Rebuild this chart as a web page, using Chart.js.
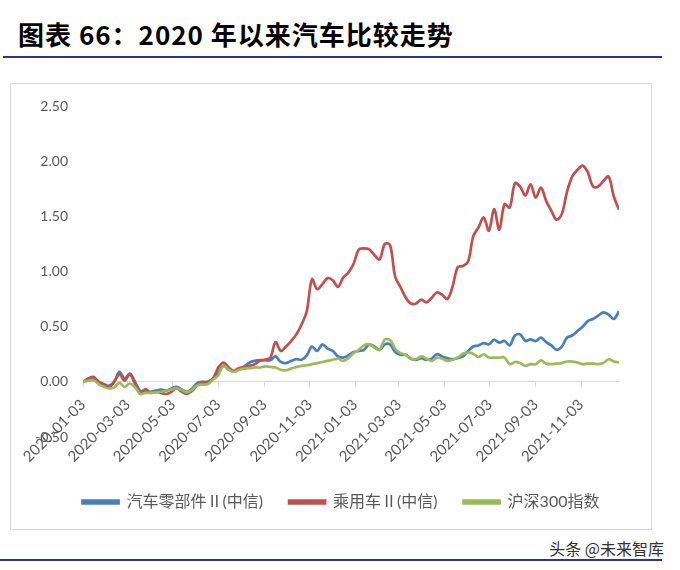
<!DOCTYPE html>
<html>
<head>
<meta charset="utf-8">
<script src="https://cdn.jsdelivr.net/npm/chart.js@4.4.0/dist/chart.umd.min.js"></script>
<style>
  body { margin: 0; width: 680px; height: 570px; background: #fff; position: relative; overflow: hidden; }
  #title { position: absolute; left: 18px; top: 15px; font: bold 26px "Noto Sans CJK SC", sans-serif; letter-spacing: 1px; color: #000; white-space: nowrap; }
  .rule { position: absolute; height: 2px; background: #2e3092; }
  #box { position: absolute; left: 10px; top: 83px; width: 642px; height: 447px; border: 1px solid #d9d9d9; box-sizing: border-box; }
  #mark { position: absolute; right: 16px; top: 536px; font: 16px "Noto Sans CJK SC", sans-serif; color: #333; }
</style>
</head>
<body>
<div id="title">图表 66：2020 年以来汽车比较走势</div>
<div class="rule" style="left:3px; top:56px; width:659px;"></div>
<div id="box"><canvas id="chart" width="640" height="445"></canvas></div>
<div id="mark">头条 @未来智库</div>
<div class="rule" style="left:0; top:559px; width:662px;"></div>
<script>
// weekly dates (Fridays)
var dates = [
  '2020-01-03','2020-01-10','2020-01-17','2020-01-24','2020-01-31','2020-02-07','2020-02-14','2020-02-21','2020-02-28',
  '2020-03-06','2020-03-13','2020-03-20','2020-03-27','2020-04-03','2020-04-10','2020-04-17','2020-04-24',
  '2020-05-01','2020-05-08','2020-05-15','2020-05-22','2020-05-29','2020-06-05','2020-06-12','2020-06-19','2020-06-26',
  '2020-07-03','2020-07-10','2020-07-17','2020-07-24','2020-07-31','2020-08-07','2020-08-14','2020-08-21','2020-08-28',
  '2020-09-04','2020-09-11','2020-09-18','2020-09-25','2020-10-02','2020-10-09','2020-10-16','2020-10-23','2020-10-30',
  '2020-11-06','2020-11-13','2020-11-20','2020-11-27','2020-12-04','2020-12-11','2020-12-18','2020-12-25',
  '2021-01-01','2021-01-08','2021-01-15','2021-01-22','2021-01-29','2021-02-05','2021-02-12','2021-02-19','2021-02-26',
  '2021-03-05','2021-03-12','2021-03-19','2021-03-26','2021-04-02','2021-04-09','2021-04-16','2021-04-23','2021-04-30',
  '2021-05-07','2021-05-14','2021-05-21','2021-05-28','2021-06-04','2021-06-11','2021-06-18','2021-06-25',
  '2021-07-02','2021-07-09','2021-07-16','2021-07-23','2021-07-30','2021-08-06','2021-08-13','2021-08-20','2021-08-27',
  '2021-09-03','2021-09-10','2021-09-17','2021-09-24','2021-10-01','2021-10-08','2021-10-15','2021-10-22','2021-10-29',
  '2021-11-05','2021-11-12','2021-11-19','2021-11-26','2021-12-03','2021-12-10','2021-12-17','2021-12-24'
];

// 汽车零部件Ⅱ(中信)
var parts = [0.00,0.015,0.025,0.0,-0.02,-0.035,0.0,0.09,0.03,0.075,
  0.0,-0.08,-0.08,-0.09,-0.08,-0.07,-0.08,-0.06,-0.045,-0.07,
  -0.09,-0.06,-0.01,0.0,0.0,0.03,0.085,0.145,0.11,0.095,
  0.115,0.14,0.175,0.19,0.196,0.196,0.195,0.23,0.18,0.17,
  0.19,0.205,0.20,0.24,0.32,0.28,0.34,0.30,0.28,0.23,
  0.22,0.24,0.27,0.28,0.29,0.34,0.32,0.29,0.34,0.34,
  0.27,0.245,0.245,0.21,0.20,0.215,0.20,0.21,0.25,0.23,
  0.215,0.205,0.215,0.23,0.28,0.32,0.33,0.35,0.34,0.38,
  0.356,0.37,0.33,0.42,0.43,0.37,0.385,0.37,0.40,0.36,
  0.33,0.29,0.32,0.40,0.42,0.46,0.50,0.55,0.57,0.60,
  0.63,0.61,0.57,0.64];

// 乘用车Ⅱ(中信)
var cars = [0.00,0.03,0.045,0.0,-0.03,-0.05,0.0,0.07,0.01,0.07,
  -0.02,-0.10,-0.066,-0.10,-0.09,-0.10,-0.11,-0.09,-0.06,-0.09,
  -0.11,-0.08,-0.03,-0.01,0.0,0.03,0.13,0.175,0.13,0.10,
  0.125,0.135,0.145,0.16,0.19,0.20,0.22,0.36,0.28,0.32,
  0.37,0.43,0.52,0.64,0.93,0.84,0.885,0.94,0.92,0.86,
  0.945,0.99,1.07,1.20,1.21,1.20,1.15,1.11,1.25,1.24,
  0.95,0.86,0.765,0.71,0.71,0.745,0.72,0.76,0.81,0.79,
  0.75,0.86,1.04,1.05,1.09,1.32,1.40,1.49,1.37,1.565,
  1.38,1.61,1.58,1.80,1.77,1.69,1.79,1.67,1.76,1.64,
  1.55,1.47,1.52,1.72,1.86,1.92,1.96,1.90,1.77,1.77,
  1.82,1.86,1.68,1.56];

// 沪深300指数
var hs300 = [0.0,0.01,0.015,-0.02,-0.045,-0.06,-0.05,-0.01,-0.045,-0.015,
  -0.05,-0.11,-0.10,-0.10,-0.095,-0.09,-0.08,-0.07,-0.057,-0.075,
  -0.095,-0.07,-0.03,-0.025,-0.02,0.02,0.06,0.145,0.11,0.09,
  0.11,0.12,0.125,0.13,0.13,0.14,0.135,0.13,0.11,0.105,
  0.12,0.135,0.145,0.15,0.16,0.17,0.18,0.19,0.20,0.21,
  0.19,0.215,0.26,0.29,0.33,0.34,0.31,0.29,0.385,0.38,
  0.30,0.26,0.245,0.21,0.205,0.23,0.21,0.19,0.22,0.21,
  0.19,0.20,0.22,0.255,0.265,0.255,0.225,0.25,0.22,0.22,
  0.22,0.22,0.16,0.18,0.17,0.145,0.16,0.16,0.195,0.165,
  0.16,0.165,0.17,0.184,0.184,0.175,0.16,0.165,0.165,0.16,
  0.17,0.205,0.185,0.175];

var tickLabels = ['2020-01-03','2020-03-03','2020-05-03','2020-07-03','2020-09-03','2020-11-03',
  '2021-01-03','2021-03-03','2021-05-03','2021-07-03','2021-09-03','2021-11-03'];

var t0 = Date.parse(dates[0]);
function day(s) { return Math.round((Date.parse(s) - t0) / 86400000); }
function pts(arr) { return dates.map(function (d, i) { return { x: day(d), y: arr[i] }; }); }

var tickMap = {};
tickLabels.forEach(function (s) { tickMap[day(s)] = s; });

var font = 'Lato, "Noto Sans CJK SC", sans-serif';
var grey = '#595959';

var ctx = document.getElementById('chart');
var chart = new Chart(ctx, {
  type: 'line',
  data: {
    datasets: [
      { label: '汽车零部件Ⅱ(中信)', data: pts(parts), borderColor: '#4a7ebb', backgroundColor: '#4a7ebb', order: 3 },
      { label: '乘用车Ⅱ(中信)', data: pts(cars), borderColor: '#c0504d', backgroundColor: '#c0504d', order: 2 },
      { label: '沪深300指数', data: pts(hs300), borderColor: '#9bbb59', backgroundColor: '#9bbb59', order: 1 }
    ]
  },
  options: {
    responsive: false,
    animation: false,
    elements: {
      line: { borderWidth: 2.7, tension: 0.35, fill: false },
      point: { radius: 0 }
    },
    layout: { padding: { top: 22, right: 4, bottom: 9, left: 24 } },
    scales: {
      x: {
        type: 'linear',
        position: { y: 0 },
        min: 0,
        max: day(dates[dates.length - 1]),
        afterBuildTicks: function (axis) {
          axis.ticks = tickLabels.map(function (s) { return { value: day(s) }; });
        },
        ticks: {
          autoSkip: false,
          minRotation: 45,
          maxRotation: 45,
          padding: 9,
          color: grey,
          font: { family: font, size: 15 },
          callback: function (v) { return tickMap[v] || ''; }
        },
        grid: { drawOnChartArea: false, drawTicks: true, tickLength: 5, color: '#d9d9d9' },
        border: { display: true, color: '#d9d9d9', width: 1 }
      },
      y: {
        min: -0.5,
        max: 2.5,
        afterFit: function (scale) { scale.width = 48; },
        ticks: {
          stepSize: 0.5,
          padding: 7,
          color: grey,
          font: { family: font, size: 14 },
          callback: function (v) { return v.toFixed(2); }
        },
        grid: { display: false },
        border: { display: false }
      },
      // empty spacer on the right of the plot
      y2: {
        position: 'right',
        afterFit: function (scale) { scale.width = 28; },
        ticks: { display: false },
        grid: { display: false },
        border: { display: false }
      }
    },
    plugins: {
      tooltip: { enabled: false },
      legend: {
        position: 'bottom',
        title: { display: true, text: ' ', font: { size: 10 }, padding: { top: 0, bottom: 19 } },
        labels: {
          boxWidth: 36,
          boxHeight: 3,
          padding: 26,
          color: grey,
          font: { family: font, size: 16 },
          sort: function (a, b) { return a.datasetIndex - b.datasetIndex; }
        }
      }
    }
  }
});
</script>
</body>
</html>
